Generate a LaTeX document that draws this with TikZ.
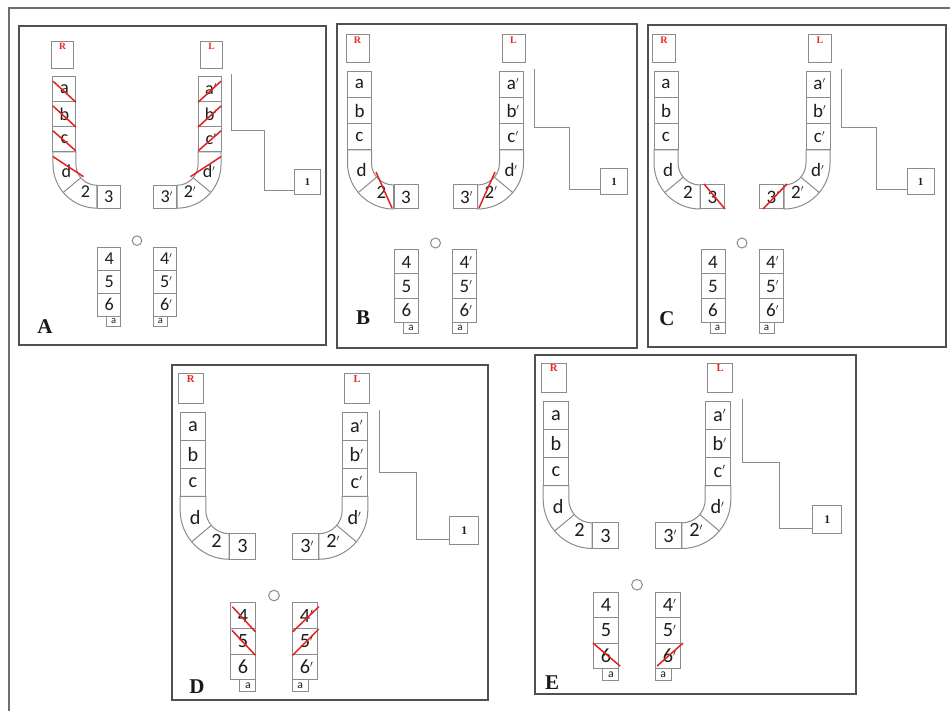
\documentclass[tikz,border=0pt]{standalone}
\usepackage{fontspec}
\setmainfont{Carlito}
\newfontfamily\tagserif{Liberation Serif}
\usetikzlibrary{calc}
\definecolor{cellgray}{RGB}{140,140,140}
\definecolor{framegray}{RGB}{80,80,80}
\definecolor{outergray}{RGB}{110,110,110}
\definecolor{slashred}{RGB}{226,32,32}
\definecolor{tagred}{RGB}{230,40,40}
\definecolor{celltext}{RGB}{30,30,30}
\newcommand{\pr}[1]{#1\rlap{$^{\scriptscriptstyle\prime}$}}
\tikzset{
  cellline/.style={draw=cellgray, line width=1pt},
  cellbox/.style={draw=cellgray, line width=1pt, inner sep=0pt, text=celltext, font=\fontsize{19}{19}\selectfont},
  colcell/.style={cellbox, minimum width=24pt, minimum height=26.33pt},
  lowcell/.style={cellbox, minimum width=24pt, minimum height=24pt},
  tipcell/.style={cellbox, minimum width=15pt, minimum height=11pt, font=\fontsize{11}{11}\selectfont},
  celltxt/.style={inner sep=0pt, text=celltext, font=\fontsize{19}{19}\selectfont},
  tagbox/.style={draw=cellgray, line width=1pt, minimum width=23pt, minimum height=28pt, inner sep=0pt},
  tagtxt/.style={inner sep=0pt, text=tagred, font=\tagserif\bfseries\fontsize{10}{10}\selectfont, anchor=north},
  onebox/.style={draw=cellgray, line width=1pt, minimum width=27pt, minimum height=26pt, inner sep=0pt, text=celltext, font=\tagserif\bfseries\fontsize{11}{11}\selectfont},
  holemark/.style={draw=cellgray, line width=1pt, circle, minimum size=10pt, inner sep=0pt},
  panelframe/.style={draw=framegray, line width=1.8pt},
  redslash/.style={draw=slashred, line width=1.5pt},
  panellabel/.style={inner sep=0pt, text=black!90, font=\tagserif\bfseries\fontsize{21}{21}\selectfont},
}
\newcommand{\panelbody}{%
  \node[tagbox] (R) at (-78,14) {};
  \node[tagtxt] (Rt) at ([yshift=-2pt]R.north) {R};
  \node[tagbox] (L) at (78,14) {};
  \node[tagtxt] (Lt) at ([yshift=-2pt]L.north) {L};
  % left arch
  \node[colcell] (a) at (-76,49.17) {a};
  \node[colcell] (b) at (-76,75.5) {b};
  \node[colcell] (c) at (-76,101.83) {c};
  \draw[cellline] (-64,115) -- (-88,115) -- (-88,128) arc[start angle=180,end angle=90,radius=46] -- (-42,150) arc[start angle=90,end angle=180,radius=22] -- cycle;
  \draw[cellline] ($(-42,128)+(140:22)$) -- ($(-42,128)+(140:46)$);
  \node[celltxt] (d) at (-74,135) {d};
  \node[celltxt] (two) at (-54,157) {2};
  \node[lowcell] (three) at (-29.5,162) {3};
  % right arch
  \node[colcell] (ap) at (76,49.17) {\pr{a}};
  \node[colcell] (bp) at (76,75.5) {\pr{b}};
  \node[colcell] (cp) at (76,101.83) {\pr{c}};
  \draw[cellline] (64,115) -- (88,115) -- (88,128) arc[start angle=0,end angle=90,radius=46] -- (42,150) arc[start angle=90,end angle=0,radius=22] -- cycle;
  \draw[cellline] ($(42,128)+(40:22)$) -- ($(42,128)+(40:46)$);
  \node[celltxt] (dp) at (74,135) {\pr{d}};
  \node[celltxt] (twop) at (54,157) {\pr{2}};
  \node[lowcell] (threep) at (29.5,162) {\pr{3}};
  % connector to 1
  \coordinate (s) at (99,34);
  \coordinate (k) at (134,93);
  \node[onebox] (one) at (178.5,147) {1};
  \draw[cellline] (s) |- (k) |- ([yshift=-8pt]one.west);
  % lower
  \node[holemark] (hole) at (0,208) {};
  \node[lowcell] (four) at (-29,227) {4};
  \node[lowcell] (five) at (-29,251) {5};
  \node[lowcell] (six) at (-29,275) {6};
  \node[tipcell] (tip) at (-24.5,292.5) {a};
  \node[lowcell] (fourp) at (29,227) {\pr{4}};
  \node[lowcell] (fivep) at (29,251) {\pr{5}};
  \node[lowcell] (sixp) at (29,275) {\pr{6}};
  \node[tipcell] (tipp) at (24.5,292.5) {a};
}
\begin{document}
\begin{tikzpicture}[x=1pt,y=-1pt]
\useasboundingbox (0,0) rectangle (950,711);
\fill[white] (0,0) rectangle (950,711);
\draw[draw=outergray, line width=2pt] (950,8.5) -- (9,8.5) -- (9,711);
% frames
\draw[panelframe] (19,26) rectangle (326,345);
\draw[panelframe] (337,24) rectangle (637,348);
\draw[panelframe] (648,25) rectangle (946,347);
\draw[panelframe] (172,365) rectangle (488,700);
\draw[panelframe] (535,355) rectangle (856,694);
% labels
\node[panellabel] (labA) at (45,327) {A};
\node[panellabel] (labB) at (363,318) {B};
\node[panellabel] (labC) at (667,319) {C};
\node[panellabel] (labD) at (197,687) {D};
\node[panellabel] (labE) at (552,683) {E};
% panel A
\begin{scope}[shift={(137,42)}, scale=0.955, transform shape, name prefix=A-]
  \panelbody
  \draw[redslash] (-88,41) -- (-64,63);
  \draw[redslash] (-88,67) -- (-64,89);
  \draw[redslash] (-88,93) -- (-64,114);
  \draw[redslash] (-88,120) -- (-56,141);
  \draw[redslash] (88,41) -- (64,63);
  \draw[redslash] (88,67) -- (64,89);
  \draw[redslash] (88,93) -- (64,114);
  \draw[redslash] (88,120) -- (56,141);
\end{scope}
% panel B
\begin{scope}[shift={(435.5,35)}, name prefix=B-]
  \panelbody
  \draw[redslash] (-59.5,137) -- (-43.5,173);
  \draw[redslash] (59.5,137) -- (43.5,173);
\end{scope}
% panel C
\begin{scope}[shift={(742,35)}, name prefix=C-]
  \panelbody
  \draw[redslash] (-38,149) -- (-17,174);
  \draw[redslash] (45,149) -- (21,174);
\end{scope}
% panel D
\begin{scope}[shift={(274,373.8)}, scale=1.066, transform shape, name prefix=D-]
  \panelbody
  \draw[redslash] (-39,218.5) -- (-17.5,242);
  \draw[redslash] (-39.5,240.5) -- (-17.5,264);
  \draw[redslash] (17.5,242) -- (42,218.5);
  \draw[redslash] (17.5,264) -- (42,239.5);
\end{scope}
% panel E
\begin{scope}[shift={(637,363)}, scale=1.066, transform shape, name prefix=E-]
  \panelbody
  \draw[redslash] (-41.3,262.7) -- (-15.9,284.3);
  \draw[redslash] (18.8,284.3) -- (43.2,262.7);
\end{scope}
\end{tikzpicture}
\end{document}
